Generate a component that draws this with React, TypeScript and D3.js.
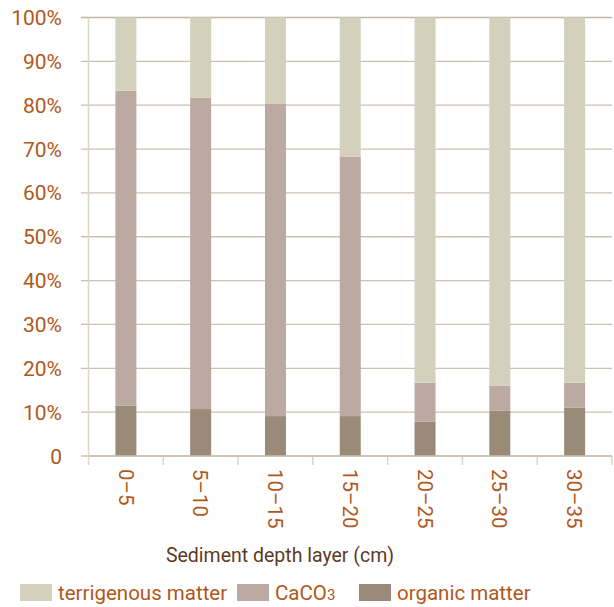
import React from "react";
import * as d3 from "d3";

const categories = ["0–5", "5–10", "10–15", "15–20", "20–25", "25–30", "30–35"];
const organic = [11.5, 10.7, 9.1, 9.1, 7.8, 10.3, 11.0];
const caco3 = [71.8, 71.0, 71.3, 59.2, 8.9, 5.7, 5.7];
const terrigenous = categories.map((_, i) => 100 - organic[i] - caco3[i]);
const yTicks = [0, 10, 20, 30, 40, 50, 60, 70, 80, 90, 100];
const seriesNames = ["terrigenous matter", "CaCO3", "organic matter"];

const W = 614, H = 607;
const left = 88.5, right = 612, top = 17.5, bottom = 456;
const colors: Record<string, string> = {
  organic: "#9a8a78",
  caco3: "#bba9a2",
  terrigenous: "#d3d1bc",
};
const textColor = "#b0581c";
const font = "Roboto, 'DejaVu Sans', sans-serif";

export default function App() {
  const x = d3.scaleBand<string>().domain(categories).range([left, right]);
  const y = d3.scaleLinear().domain([0, 100]).range([bottom, top]);
  const data = categories.map((c, i) => ({ c, organic: organic[i], caco3: caco3[i], terrigenous: terrigenous[i] }));
  const stack = d3.stack<any>().keys(["organic", "caco3", "terrigenous"])(data);
  const bw = 21;

  return (
    <svg width={W} height={H} style={{ position: "absolute", left: 0, top: 0 }}>
      <rect width={W} height={H} fill="#fff" />
      {yTicks.map((t) => (
        <g key={t}>
          <line x1={81} x2={right} y1={y(t)} y2={y(t)} stroke={t === 100 ? "#c2b6a2" : "#cbc1b0"} strokeWidth={t === 100 ? 1.6 : 1.3} />
          <text x={62} y={y(t)} dy="0.36em" textAnchor="end" fill={textColor} fontFamily={font} fontSize={21}>
            {t === 0 ? "0" : `${t}%`}
          </text>
        </g>
      ))}
      <line x1={left} x2={left} y1={top} y2={bottom + 9} stroke="#ddd6c6" strokeWidth={1.5} />
      {categories.map((c, i) => (
        <line key={"t" + i} x1={(x(c) as number) + x.bandwidth()} x2={(x(c) as number) + x.bandwidth()} y1={bottom} y2={bottom + 9} stroke="#ddd6c6" strokeWidth={1.5} />
      ))}
      {stack.map((s) => (
        <g key={s.key} fill={colors[s.key]}>
          {s.map((d, i) => {
            const cx = (x(categories[i]) as number) + x.bandwidth() / 2;
            return <rect key={i} x={cx - bw / 2} width={bw} y={y(d[1])} height={y(d[0]) - y(d[1])} />;
          })}
        </g>
      ))}
      <line x1={left} x2={right} y1={bottom} y2={bottom} stroke="#cbc1b0" strokeWidth={1.3} />
      {categories.map((c) => {
        const cx = (x(c) as number) + x.bandwidth() / 2;
        return (
          <text key={c} transform={`translate(${cx},${469}) rotate(90)`} dy="0.36em" textAnchor="start" fill={textColor} fontFamily={font} fontSize={20.5}>
            {c}
          </text>
        );
      })}
      <text x={280} y={562} textAnchor="middle" fill="#5e3a1f" fontFamily={font} fontSize={19.5}>
        Sediment depth layer (cm)
      </text>
      {[
        { k: "terrigenous", x: 20, label: <tspan>terrigenous matter</tspan> },
        { k: "caco3", x: 237, label: <tspan>CaCO<tspan fontSize={15}>3</tspan></tspan> },
        { k: "organic", x: 359, label: <tspan>organic matter</tspan> },
      ].map((l, i) => (
        <g key={l.k}>
          <rect x={l.x} y={584} width={32} height={17} fill={colors[l.k]} />
          <text x={l.x + 38} y={593} dy="0.36em" fill={textColor} fontFamily={font} fontSize={20.5} aria-label={seriesNames[i]}>
            {l.label}
          </text>
        </g>
      ))}
    </svg>
  );
}
